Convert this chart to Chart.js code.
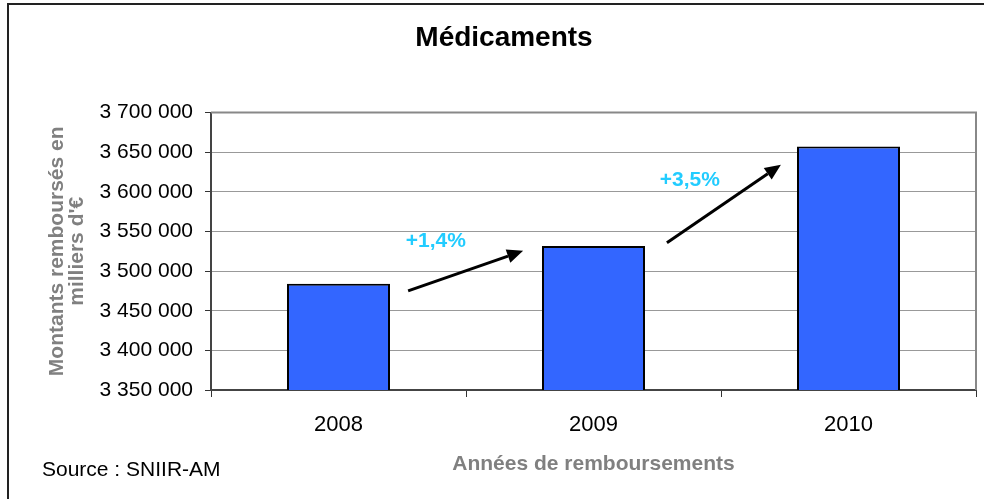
<!DOCTYPE html>
<html>
<head>
<meta charset="utf-8">
<script src="https://cdn.jsdelivr.net/npm/chart.js@4.4.1/dist/chart.umd.min.js"></script>
<style>
  html, body { margin: 0; padding: 0; background: #fff; }
  #wrap { position: relative; width: 984px; height: 499px; overflow: hidden; }
  #frame { position: absolute; left: 7px; top: 3px; right: -10px; bottom: -10px;
           border-left: 2px solid #222; border-top: 2px solid #222; }
  #source { position: absolute; left: 42px; top: 456px; font: 21px "Liberation Sans", Arial, sans-serif;
            color: #000; line-height: 25px; }
  canvas { position: absolute; left: 0; top: 0; }
</style>
</head>
<body>
<div id="wrap">
  <canvas id="myChart" width="984" height="499"></canvas>
  <div id="frame"></div>
  <div id="source">Source : SNIIR-AM</div>
</div>
<script>
// data
const years = ["2008", "2009", "2010"];
const montants = [3484150, 3531700, 3657240];
const yMin = 3350000, yMax = 3700000, yStep = 50000;

// growth arrows, in axis units (category index, value)
const arrowFrom = [[0.273, 3475000], [1.288, 3535700]];
const arrowTo = [[0.724, 3525600], [1.735, 3634300]];
const growthLabels = ["+1,4%", "+3,5%"];
const labelAt = [[0.382, 3538300], [1.378, 3615300]];

const font = "'Liberation Sans', Arial, sans-serif";

function fmt(v) {
    return v.toString().replace(/\B(?=(\d{3})+(?!\d))/g, " ");
}

const extras = {
    id: "extras",
    beforeDatasetsDraw(chart) {
        const { ctx, chartArea: a } = chart;
        ctx.save();
        ctx.strokeStyle = "#888";
        ctx.lineWidth = 2;
        ctx.beginPath();
        ctx.moveTo(a.left, a.top);
        ctx.lineTo(a.right, a.top);
        ctx.lineTo(a.right, a.bottom);
        ctx.stroke();
        ctx.restore();
    },
    afterDatasetsDraw(chart) {
        const { ctx } = chart;
        const x = chart.scales.x, y = chart.scales.y;
        ctx.save();
        for (let i = 0; i < arrowFrom.length; i++) {
            const x1 = x.getPixelForValue(arrowFrom[i][0]), y1 = y.getPixelForValue(arrowFrom[i][1]);
            const x2 = x.getPixelForValue(arrowTo[i][0]), y2 = y.getPixelForValue(arrowTo[i][1]);
            const ang = Math.atan2(y2 - y1, x2 - x1);
            const hl = 16, hw = 7;
            const bx = x2 - hl * Math.cos(ang), by = y2 - hl * Math.sin(ang);
            ctx.strokeStyle = "#000";
            ctx.lineWidth = 3;
            ctx.beginPath();
            ctx.moveTo(x1, y1);
            ctx.lineTo(bx, by);
            ctx.stroke();
            ctx.fillStyle = "#000";
            ctx.beginPath();
            ctx.moveTo(x2, y2);
            ctx.lineTo(bx + hw * Math.sin(ang), by - hw * Math.cos(ang));
            ctx.lineTo(bx - hw * Math.sin(ang), by + hw * Math.cos(ang));
            ctx.closePath();
            ctx.fill();

            ctx.fillStyle = "#22CCFF";
            ctx.font = "bold 21px " + font;
            ctx.textAlign = "center";
            ctx.textBaseline = "middle";
            ctx.fillText(growthLabels[i], x.getPixelForValue(labelAt[i][0]), y.getPixelForValue(labelAt[i][1]));
        }
        ctx.restore();
    }
};

new Chart("myChart", {
    type: "bar",
    data: {
        labels: years,
        datasets: [
            {
                data: montants,
                backgroundColor: "#3366FF",
                borderColor: "#000",
                borderWidth: 2,
                borderSkipped: false,
                barPercentage: 0.404,
                categoryPercentage: 1,
            },
        ],
    },
    plugins: [extras],
    options: {
        responsive: false,
        animation: false,
        layout: { padding: { left: 32, right: 8, top: 0, bottom: 0 } },
        plugins: {
            legend: { display: false },
            tooltip: { enabled: false },
            title: {
                display: true,
                text: "Médicaments",
                color: "#000",
                font: { family: font, size: 28, weight: "bold" },
                padding: { top: 21, bottom: 58 },
            },
        },
        scales: {
            x: {
                afterFit(s) { s.height = 109; },
                grid: { drawOnChartArea: false, drawTicks: true, tickLength: 7, tickColor: "#333", offset: true },
                border: { color: "#444", width: 2 },
                ticks: { color: "#000", padding: 15, font: { family: font, size: 22 } },
                title: {
                    display: true,
                    text: "Années de remboursements",
                    color: "#808080",
                    font: { family: font, size: 21, weight: "bold" },
                    padding: { top: 0, bottom: 22 },
                },
            },
            y: {
                min: yMin,
                max: yMax,
                afterFit(s) { s.width = 179; },
                grid: { color: "#999", lineWidth: 1, drawTicks: true, tickLength: 6, tickColor: "#333" },
                border: { color: "#444", width: 2 },
                ticks: {
                    stepSize: yStep,
                    color: "#000",
                    padding: 12,
                    font: { family: font, size: 21 },
                    callback: (v) => fmt(v),
                },
                title: {
                    display: true,
                    text: ["Montants remboursés en", "milliers d'€"],
                    color: "#808080",
                    font: { family: font, size: 21, weight: "bold", lineHeight: 0.95 },
                    padding: { top: 15, bottom: 0 },
                },
            },
        },
    },
});
</script>
</body>
</html>
